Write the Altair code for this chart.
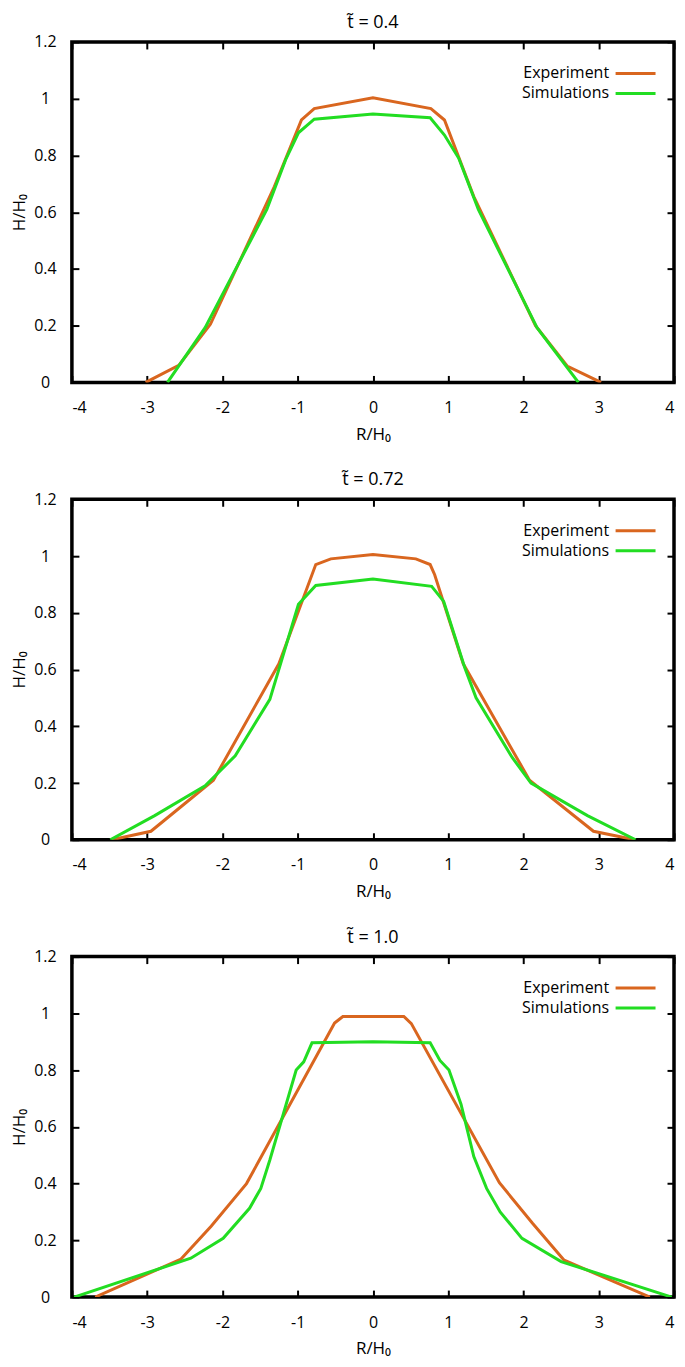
import altair as alt
import pandas as pd

ORANGE = "#d9661f"
GREEN = "#22dd22"
FONT = "Open Sans"

series_names = ["Experiment", "Simulations"]
panel_titles = ["t\u0303 = 0.4", "t\u0303 = 0.72", "t\u0303 = 1.0"]
x_tick_values = [-4, -3, -2, -1, 0, 1, 2, 3, 4]
y_tick_values = [0, 0.2, 0.4, 0.6, 0.8, 1, 1.2]

# Panel 1 (t = 0.4)
exp1_x = [-3.02, -2.58, -2.16, -1.31, -0.95, -0.78, 0.0, 0.77, 0.95, 1.34, 2.16, 2.58, 3.03]
exp1_y = [0.0, 0.06, 0.205, 0.69, 0.925, 0.965, 1.003, 0.965, 0.925, 0.655, 0.2, 0.058, 0.0]
sim1_x = [-2.73, -2.23, -1.41, -1.16, -0.99, -0.78, 0.0, 0.76, 0.95, 1.14, 1.40, 2.18, 2.73]
sim1_y = [0.0, 0.193, 0.61, 0.785, 0.88, 0.928, 0.946, 0.933, 0.872, 0.79, 0.61, 0.193, 0.0]

# Panel 2 (t = 0.72)
exp2_x = [-3.47, -2.95, -2.12, -1.25, -0.76, -0.56, 0.0, 0.57, 0.76, 0.82, 1.20, 2.08, 2.93, 3.48]
exp2_y = [0.0, 0.03, 0.21, 0.62, 0.97, 0.99, 1.005, 0.99, 0.97, 0.934, 0.62, 0.21, 0.03, 0.0]
sim2_x = [-3.49, -2.90, -2.23, -1.83, -1.37, -0.99, -0.76, 0.0, 0.78, 0.94, 1.22, 1.37, 1.85, 2.10, 2.85, 3.49]
sim2_y = [0.0, 0.085, 0.19, 0.296, 0.495, 0.83, 0.896, 0.919, 0.893, 0.84, 0.606, 0.50, 0.29, 0.20, 0.085, 0.0]

# Panel 3 (t = 1.0)
exp3_x = [-3.69, -2.55, -2.15, -1.68, -0.51, -0.40, 0.41, 0.51, 1.68, 2.12, 2.54, 3.68]
exp3_y = [0.0, 0.134, 0.25, 0.40, 0.966, 0.989, 0.989, 0.964, 0.403, 0.26, 0.13, 0.0]
sim3_x = [-3.97, -2.42, -1.99, -1.64, -1.49, -1.37, -1.02, -0.92, -0.81, 0.0, 0.76, 0.89,
          1.01, 1.17, 1.34, 1.51, 1.69, 1.98, 2.50, 3.97]
sim3_y = [0.0, 0.137, 0.207, 0.313, 0.383, 0.483, 0.80, 0.829, 0.896, 0.90, 0.896, 0.834,
          0.80, 0.68, 0.495, 0.383, 0.30, 0.207, 0.125, 0.0]

panels_data = [
    (exp1_x, exp1_y, sim1_x, sim1_y),
    (exp2_x, exp2_y, sim2_x, sim2_y),
    (exp3_x, exp3_y, sim3_x, sim3_y),
]


def make_panel(i, ex, ey, sx, sy):
    df = pd.DataFrame({
        "r": list(ex) + list(sx),
        "h": list(ey) + list(sy),
        "series": [series_names[0]] * len(ex) + [series_names[1]] * len(sx),
        "order": list(range(len(ex))) + list(range(len(sx))),
    })
    xs = alt.Scale(domain=[-4, 4], nice=False, zero=False)
    ys = alt.Scale(domain=[0, 1.2], nice=False, zero=False)
    lines = alt.Chart(df).mark_line(strokeWidth=3, clip=True).encode(
        x=alt.X("r:Q", scale=xs,
                axis=alt.Axis(orient="bottom", values=x_tick_values, title="R/H₀",
                              offset=-7, tickSize=7, domain=False, grid=False,
                              labelPadding=17, titlePadding=11,
                              labelExpr="'' + datum.value")),
        y=alt.Y("h:Q", scale=ys,
                axis=alt.Axis(orient="left", values=y_tick_values, title="H/H₀",
                              offset=-7, tickSize=7, domain=False, grid=False,
                              labelAlign="center", labelPadding=27, titlePadding=5,
                              labelExpr="'' + datum.value")),
        color=alt.Color("series:N",
                        scale=alt.Scale(domain=series_names, range=[ORANGE, GREEN]),
                        legend=alt.Legend(orient="none", legendX=553, legendY=20,
                                          title=None, symbolType="M-2,0L2,0",
                                          symbolSize=400, symbolStrokeWidth=3,
                                          labelAlign="right", labelOffset={"expr": "-38"},
                                          labelFontSize=16, labelFont=FONT,
                                          labelColor="black", rowPadding=0)),
        order="order:Q",
    )
    mirror = alt.Chart(df).mark_point(opacity=0).encode(
        x=alt.X("r:Q", scale=xs,
                axis=alt.Axis(orient="top", values=x_tick_values, title=None,
                              labels=False, offset=-7, tickSize=7, domain=False,
                              grid=False)),
        y=alt.Y("h:Q", scale=ys,
                axis=alt.Axis(orient="right", values=y_tick_values, title=None,
                              labels=False, offset=-7, tickSize=7, domain=False,
                              grid=False)),
    )
    return alt.layer(lines, mirror).resolve_axis(x="independent", y="independent").properties(
        width=603, height=341,
        title=alt.TitleParams(panel_titles[i], fontSize=18, fontWeight="normal", font=FONT,
                              color="black", offset={"expr": "-2"}, dy=-4,
                              anchor="middle", frame="group"),
    )


panels = [make_panel(i, *d) for i, d in enumerate(panels_data)]

chart = alt.vconcat(*panels, spacing=117, bounds="flush").resolve_scale(
    color="independent"
).configure_view(
    stroke="black", strokeWidth=3.5
).configure_axis(
    labelFont=FONT, labelFontSize=16, labelColor="black",
    titleFont=FONT, titleFontSize=17, titleFontWeight="normal", titleColor="black",
    tickColor="black", tickWidth=2,
).properties(
    padding={"left": 1, "top": 3, "right": 0, "bottom": 0}
)

chart.save("out.html", embed_options={"renderer": "svg", "actions": False})
